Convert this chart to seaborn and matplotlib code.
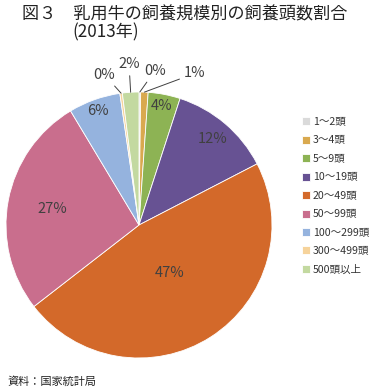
import numpy as np
import matplotlib
matplotlib.use("Agg")
import matplotlib.pyplot as plt
import seaborn as sns

sns.set_theme(style="white")
plt.rcParams["font.family"] = ["Noto Sans CJK JP", "DejaVu Sans"]

# データ（2013年, 飼養頭数割合 %）
categories = ["1～2頭", "3～4頭", "5～9頭", "10～19頭", "20～49頭",
              "50～99頭", "100～299頭", "300～499頭", "500頭以上"]
shares = [0.2, 0.9, 3.9, 12.4, 47.1, 26.9, 6.3, 0.3, 2.0]

colors = sns.color_palette(["#dadada", "#d9a94f", "#8db354", "#675293", "#d3692a",
                            "#c96e8d", "#95b3de", "#f6d39b", "#c3d9a0"])

# ラベル配置（内側: 半径係数 / 外側: 引き出し線つき）
inner_r = {"5～9頭": 0.91, "10～19頭": 0.85, "20～49頭": 0.43,
           "50～99頭": 0.66, "100～299頭": 0.91}
outer_pos = {"1～2頭": (0.12, 1.16), "3～4頭": (0.42, 1.14),
             "300～499頭": (-0.26, 1.13), "500頭以上": (-0.075, 1.21)}

fig = plt.figure(figsize=(3.7, 3.91), dpi=100)
ax = fig.add_axes([6 / 370, 33 / 391, 266 / 370, 266 / 391])

wedges, _ = ax.pie(shares, colors=colors, startangle=90, counterclock=False,
                   wedgeprops=dict(edgecolor="white", linewidth=0.6))
ax.set_xlim(-1, 1)
ax.set_ylim(-1, 1)
ax.axis("off")

txt_color = "#404040"
for w, cat, v in zip(wedges, categories, shares):
    mid = np.deg2rad((w.theta1 + w.theta2) / 2)
    lab = f"{round(v):d}%"
    if cat in inner_r:
        r = inner_r[cat]
        ax.text(r * np.cos(mid), r * np.sin(mid), lab, ha="center", va="center",
                fontsize=10.5, color=txt_color)
    else:
        ax.annotate(lab, xy=(np.cos(mid), np.sin(mid)), xytext=outer_pos[cat],
                    ha="center", va="center", fontsize=10.5, color=txt_color,
                    arrowprops=dict(arrowstyle="-", color="#404040", lw=0.7,
                                    shrinkA=1, shrinkB=0))

fig.legend(wedges, categories, loc="upper left", bbox_to_anchor=(302 / 370, 1 - 117 / 391),
           frameon=False, fontsize=7.6, handlelength=0.8, handleheight=0.8,
           handletextpad=0.25, labelspacing=0.8, borderpad=0, borderaxespad=0,
           labelcolor="#333333")

fig.text(22 / 370, 1 - 14 / 391, "図３　乳用牛の飼養規模別の飼養頭数割合",
         fontsize=12.3, color="#222222", va="center", ha="left")
fig.text(72 / 370, 1 - 32 / 391, "(2013年)", fontsize=12.3, color="#222222",
         va="center", ha="left")
fig.text(8 / 370, 1 - 382 / 391, "資料：国家統計局", fontsize=8, color="#222222",
         va="center", ha="left")

fig.savefig("out.png", dpi=100)
